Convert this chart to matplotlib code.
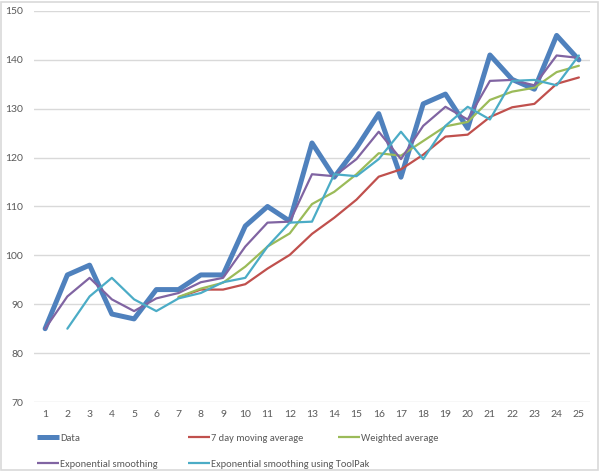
import matplotlib
matplotlib.use("Agg")
import matplotlib.pyplot as plt
from matplotlib.lines import Line2D
from matplotlib.patches import Rectangle
from matplotlib import font_manager

days = list(range(1, 26))
data = [85, 96, 98, 88, 87, 93, 93, 96, 96, 106, 110, 107, 123, 116, 122,
        129, 116, 131, 133, 126, 141, 136, 134, 145, 140]
ma7_days = list(range(7, 26))
ma7 = [91.4, 93.0, 93.0, 94.1, 97.3, 100.1, 104.4, 107.7, 111.4, 116.1,
       117.6, 120.6, 124.3, 124.7, 128.3, 130.3, 131.0, 135.1, 136.4]
wavg_days = list(range(7, 26))
wavg = [91.5, 93.2, 94.4, 97.7, 101.8, 104.5, 110.5, 113.0, 116.6, 120.9,
        120.4, 123.4, 126.4, 127.3, 131.8, 133.5, 134.3, 137.5, 138.8]
exp_days = list(range(1, 26))
exp_s = [85.0, 91.6, 95.4, 91.0, 88.6, 91.2, 92.3, 94.5, 95.4, 101.8, 106.7,
         106.9, 116.6, 116.2, 119.7, 125.3, 119.7, 126.5, 130.4, 127.8, 135.7,
         135.9, 134.8, 140.9, 140.4]
tp_days = list(range(2, 26))
toolpak = [85.0, 91.6, 95.4, 91.0, 88.6, 91.2, 92.3, 94.5, 95.4, 101.8, 106.7,
           106.9, 116.6, 116.2, 119.7, 125.3, 119.7, 126.5, 130.4, 127.8, 135.7,
           135.9, 134.8, 140.9]
yticks = [70, 80, 90, 100, 110, 120, 130, 140, 150]

W, H = 602, 473
plt.rcParams['font.family'] = ['Lato', 'DejaVu Sans']

installed = {f.name for f in font_manager.fontManager.ttflist}
legend_family = ['Lato', 'DejaVu Sans']
legend_size = 7.0
for cand in ['Carlito', 'Roboto Condensed', 'Open Sans Condensed',
             'Liberation Sans Narrow']:
    if cand in installed:
        legend_family = [cand, 'DejaVu Sans']
        legend_size = 7.5
        break

fig = plt.figure(figsize=(W / 100, H / 100), dpi=100)

# chart border
fig.patches.append(Rectangle((1 / W, 1 - 470 / H), 597 / W, 468 / H,
                             transform=fig.transFigure, fill=False,
                             edgecolor='#d9d9d9', linewidth=1.2))

ax = fig.add_axes([34 / W, 1 - 402 / H, (590 - 34) / W, (402 - 11) / H])
ax.set_xlim(0.5, 25.5)
ax.set_ylim(70, 150)
ax.set_yticks(yticks)
ax.set_xticks(days)
ax.grid(axis='y', color='#d9d9d9', linewidth=1.0)
ax.set_axisbelow(True)
for s in ax.spines.values():
    s.set_visible(False)
ax.tick_params(length=0, labelsize=7.5, colors='#595959')
ax.tick_params(axis='x', pad=6)
ax.tick_params(axis='y', pad=8)

kw = dict(solid_joinstyle='round', solid_capstyle='round')
series = [
    (days, data, '#4F81BD', 3.6, 'Data'),
    (ma7_days, ma7, '#C0504D', 1.6, '7 day moving average'),
    (wavg_days, wavg, '#9BBB59', 1.6, 'Weighted average'),
    (exp_days, exp_s, '#8064A2', 1.6, 'Exponential smoothing'),
    (tp_days, toolpak, '#4BACC6', 1.6, 'Exponential smoothing using ToolPak'),
]
for x, y, c, lw, lab in series:
    ax.plot(x, y, color=c, linewidth=lw, **kw)

# legend entries at fixed positions (Excel style)
pos = [(37, 438), (188, 438), (338, 438), (37, 464), (188, 464)]
for (x, y, c, lw, lab), (px, py) in zip(series, pos):
    h = Line2D([], [], color=c, linewidth=lw, solid_capstyle='butt')
    fig.legend([h], [lab], loc='center left',
               bbox_to_anchor=(px / W, 1 - py / H),
               frameon=False, labelcolor='#595959',
               prop={'family': legend_family, 'size': legend_size},
               handlelength=2.1, handletextpad=0.1, borderpad=0,
               borderaxespad=0)

fig.savefig('out.png', dpi=100, facecolor='white')
